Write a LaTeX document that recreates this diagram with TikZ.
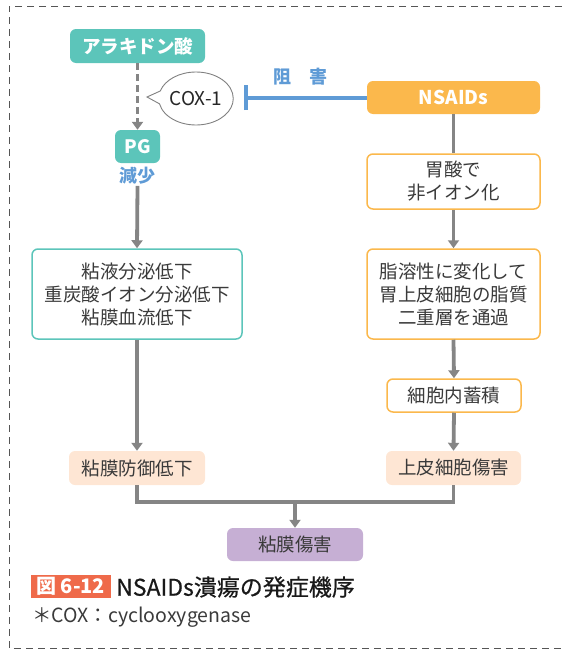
\documentclass[tikz,border=0pt]{standalone}
\usepackage{fontspec}
\setmainfont{Noto Sans CJK JP}
\newfontfamily\capfont[FakeBold=0.6]{Noto Sans CJK JP}
\usetikzlibrary{arrows.meta,shapes.geometric,shapes.callouts}
\definecolor{teal1}{HTML}{5CC5BA}
\definecolor{orng}{HTML}{FBB84C}
\definecolor{peach}{HTML}{FEE6D4}
\definecolor{purp}{HTML}{C6AFD4}
\definecolor{gline}{HTML}{858585}
\definecolor{blu}{HTML}{5F9BD6}
\definecolor{capred}{HTML}{EF6A4A}
\definecolor{txt}{HTML}{3A3A3A}
\definecolor{frame}{HTML}{555555}
\begin{document}
\begin{tikzpicture}[x=1pt,y=1pt,
  box/.style={rectangle, rounded corners=6pt, inner sep=0pt, align=center,
    font=\fontsize{18.5}{23}\selectfont, text=txt},
  tealbox/.style={box, fill=teal1, text=white, font=\fontsize{18.5}{23}\selectfont\bfseries},
  orbox/.style={box, fill=orng, text=white, font=\fontsize{19}{23}\selectfont\bfseries},
  tealline/.style={box, fill=white, draw=teal1, line width=1.5pt},
  orline/.style={box, fill=white, draw=orng, line width=1.5pt},
  peachbox/.style={box, fill=peach},
  purpbox/.style={box, fill=purp},
  conn/.style={draw=gline, line width=3.8pt},
  arr/.style={conn, -{Triangle[width=11pt,length=8pt]}},
  dasharr/.style={arr, dash pattern=on 7pt off 4pt},
  inhib/.style={draw=blu, line width=4pt, -{Bar[width=25pt]}},
  bluetext/.style={text=blu, font=\fontsize{18}{20}\selectfont\bfseries, inner sep=1pt},
]
\useasboundingbox (0,0) rectangle (562,-653);
\draw[frame, line width=1pt, dash pattern=on 7pt off 5pt] (562,-6) -- (9,-6) -- (9,-648) -- (562,-648);

% left column
\node[tealbox, minimum width=135pt, minimum height=34pt] (ara) at (137.5,-46) {アラキドン酸};
\node[tealbox, minimum width=45pt, minimum height=33pt] (pg) at (137.5,-146.5) {PG};
\node[bluetext] (gen) at (137.5,-176) {減少};
\node[tealline, minimum width=210pt, minimum height=90pt] (box1) at (137,-294) {粘液分泌低下\\重炭酸イオン分泌低下\\粘膜血流低下};
\node[peachbox, minimum width=136pt, minimum height=34pt] (bougyo) at (137,-468) {粘膜防御低下};

% COX-1 callout
\node[ellipse callout, draw=gray, line width=0.9pt, fill=white, minimum width=74pt, minimum height=53pt,
  inner sep=0pt, callout absolute pointer={(147,-97)}, callout pointer arc=28,
  font=\fontsize{19}{20}\selectfont, text=black!85] (cox) at (196,-98.5) {COX-1};

% right column
\node[orbox, minimum width=173pt, minimum height=33pt] (nsaids) at (453.5,-97.5) {NSAIDs};
\node[orline, minimum width=173pt, minimum height=55pt] (ion) at (453.5,-181.5) {胃酸で\\非イオン化};
\node[orline, minimum width=173pt, minimum height=90pt] (shiyou) at (453.5,-294) {脂溶性に変化して\\胃上皮細胞の脂質\\二重層を通過};
\node[orline, minimum width=134pt, minimum height=33pt] (chiku) at (454,-395.5) {細胞内蓄積};
\node[peachbox, minimum width=135pt, minimum height=34pt] (joshi) at (453.5,-468) {上皮細胞傷害};

\node[purpbox, minimum width=136pt, minimum height=33pt] (nen) at (295,-544.5) {粘膜傷害};

% inhibition
\coordinate (inh) at (244,-97.5);
\draw[inhib] (nsaids.west) -- (inh);
\node[bluetext] (sogai) at (300,-77) {阻　害};

% connectors
\draw[dasharr] (ara.south) -- (pg.north);
\draw[arr] (gen.south) -- (box1.north);
\draw[arr] (box1.south) -- (bougyo.north);
\draw[conn] (nsaids.south) -- (ion.north);
\draw[arr] (ion.south) -- (shiyou.north);
\draw[arr] (shiyou.south) -- (chiku.north);
\draw[arr] (chiku.south) -- (joshi.north);
\coordinate (merge) at (295,-502);
\draw[conn] (bougyo.south) |- (merge) -| (joshi.south);
\draw[arr] (merge) -- (nen.north);

% caption
\node[fill=capred, text=white, font=\fontsize{20}{20}\selectfont\bfseries, minimum width=80pt,
  minimum height=23pt, inner sep=0pt] (fig) at (71,-586.5) {図\hspace{4pt}6-12};
\node[anchor=west, inner sep=0pt, font=\fontsize{23}{24}\capfont, text=black!90] (cap) at (116,-587) {NSAIDs潰瘍の発症機序};
\node[anchor=west, inner sep=0pt, font=\fontsize{19.5}{20}\selectfont, text=txt] (note) at (32,-617) {＊COX：cyclooxygenase};
\end{tikzpicture}
\end{document}
